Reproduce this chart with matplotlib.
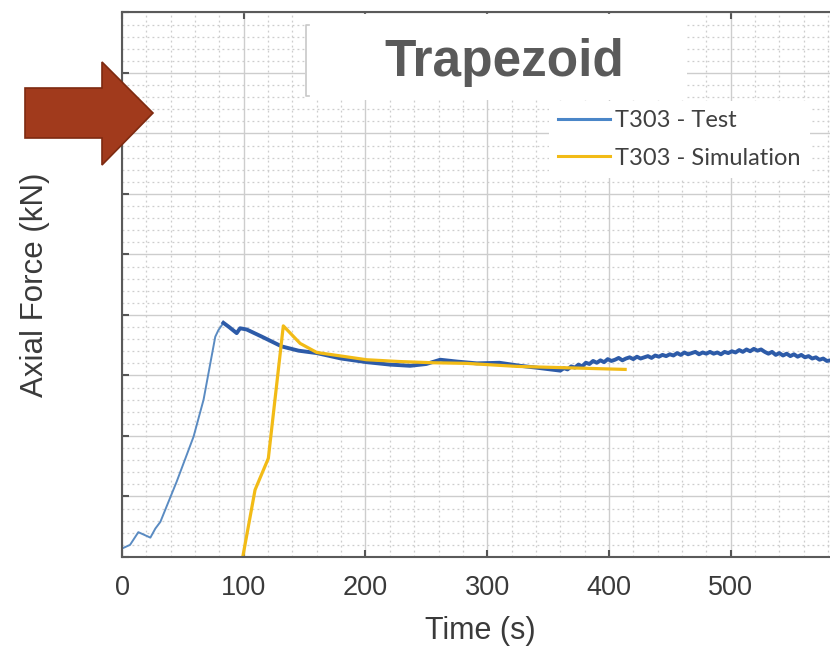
import numpy as np
import matplotlib
matplotlib.use("Agg")
import matplotlib.pyplot as plt
from matplotlib.patches import Polygon, Rectangle
from matplotlib.ticker import MultipleLocator

plt.rcParams["font.family"] = ["Liberation Sans", "DejaVu Sans"]

# T303 test, rise (thin line)
test_rise_t = [0, 6.6, 13.4, 23.3, 27.4, 31.5, 45, 58.8, 67, 76.6, 79.2, 83.3]
test_rise_v = [1.4, 2.0, 4.1, 3.2, 4.7, 5.8, 12.5, 19.9, 26.0, 36.4, 37.5, 38.7]

# T303 test, after peak (thick line)
test_t = [83.3, 88, 94.2, 97, 102.4, 115, 131.2, 145, 160, 180, 201, 220, 236.7, 250,
          261.4, 275, 291.5, 310, 327, 340, 352, 360, 363, 366, 369, 372, 375, 378, 381,
          384, 387, 390, 393, 396, 399, 402, 405, 408, 411, 414, 417, 420, 423, 426, 429,
          432, 435, 438, 441, 444, 447, 450, 453, 456, 459, 462, 465, 468, 471, 474, 477,
          480, 483, 486, 489, 492, 495, 498, 501, 504, 507, 510, 513, 516, 519, 522, 525,
          528, 531, 534, 537, 540, 543, 546, 549, 552, 555, 558, 561, 564, 567, 570, 573,
          576, 579, 582]
test_v = [38.7, 38.0, 37.0, 37.8, 37.6, 36.4, 34.8, 34.1, 33.7, 32.8, 32.2, 31.8, 31.6, 31.9,
          32.6, 32.3, 32.0, 32.1, 31.6, 31.3, 31.0, 30.8, 31.2, 31.0, 31.5, 31.3, 31.8, 31.5,
          32.1, 31.9, 32.4, 32.1, 32.5, 32.2, 32.7, 32.4, 32.6, 32.9, 32.5, 32.8, 33.0, 32.7,
          33.1, 32.8, 33.0, 33.2, 32.9, 33.3, 33.1, 33.4, 33.2, 33.5, 33.3, 33.7, 33.4, 33.8,
          33.5, 33.7, 33.9, 33.5, 33.8, 33.6, 33.9, 33.6, 33.8, 33.5, 33.9, 33.7, 34.0, 33.8,
          34.2, 33.9, 34.3, 34.0, 34.4, 34.1, 34.3, 33.9, 33.6, 33.9, 33.4, 33.7, 33.3, 33.6,
          33.2, 33.5, 33.1, 33.4, 33.0, 33.2, 32.8, 33.0, 32.6, 32.8, 32.4, 32.5]

# T303 simulation
sim_t = [99.2, 109.3, 120.2, 132.5, 146.3, 160, 173.6, 201, 228.4, 255.8, 283, 324.3, 360, 413.3]
sim_v = [0.0, 11.1, 16.3, 38.2, 35.3, 33.8, 33.4, 32.6, 32.3, 32.1, 32.0, 31.5, 31.3, 31.0]

x_ticks = [0, 100, 200, 300, 400, 500]

fig = plt.figure(figsize=(8.3, 6.49), dpi=100)
ax = fig.add_axes([0.147, 0.1418, 0.88, 0.839])

ax.set_xlim(0, 600)
ax.set_ylim(0, 90)
ax.set_xticks(x_ticks)
ax.set_xticklabels([str(t) for t in x_ticks])
ax.yaxis.set_major_locator(MultipleLocator(10))
ax.xaxis.set_minor_locator(MultipleLocator(20))
ax.yaxis.set_minor_locator(MultipleLocator(2))
ax.set_yticklabels([])

ax.grid(which="major", color="#cdcdcd", lw=1.0, ls="-")
ax.grid(which="minor", color="#cdcdcd", lw=0.9, ls=(0, (1.5, 2.5)))
ax.set_axisbelow(True)

ax.tick_params(which="major", direction="in", length=5, width=1.5, color="#555555",
               top=True, labelsize=19.5, labelcolor="#3a3a3a", pad=13)
ax.tick_params(which="minor", length=0)
for s in ax.spines.values():
    s.set_color("#5a5a5a")
    s.set_linewidth(1.5)

ax.plot(test_rise_t, test_rise_v, color="#5a8bc2", lw=1.4)
ax.plot(test_t, test_v, color="#2d5ba8", lw=2.8)
ax.plot(sim_t, sim_v, color="#f2bb16", lw=2.3)

ax.set_xlabel("Time (s)", fontsize=22, color="#3a3a3a")
ax.xaxis.set_label_coords(0.490, -0.108)
ax.set_ylabel("Axial Force (kN)", fontsize=22.5, color="#3a3a3a")
ax.yaxis.set_label_coords(-0.099, 0.5)

# title box
ax.add_patch(Rectangle((0.251, 0.839), 0.523, 0.158, transform=ax.transAxes,
                       facecolor="white", edgecolor="none", zorder=3))
ax.plot([0.256, 0.252, 0.252, 0.256], [0.977, 0.977, 0.847, 0.847], transform=ax.transAxes,
        color="#c8c8c8", lw=1.2, zorder=4)
ax.text(0.523, 0.909, "Trapezoid", transform=ax.transAxes, ha="center", va="center",
        fontsize=37, fontweight="bold", color="#5a5a5a", zorder=5)

# legend
h1, = ax.plot([], [], color="#4a86c8", lw=2.2)
h2, = ax.plot([], [], color="#f2bb16", lw=2.2)
leg = ax.legend([h1, h2], ["T303 - Test", "T303 - Simulation"], loc="upper left",
                bbox_to_anchor=(0.584, 0.838), borderaxespad=0, frameon=True, fancybox=False,
                edgecolor="none", framealpha=1.0, handlelength=2.2, handletextpad=0.2,
                labelspacing=0.7, prop={"family": "Lato", "size": 17})
for t in leg.get_texts():
    t.set_color("#404040")

# arrow
pts = [(25, 88), (102, 88), (102, 62), (153, 113), (102, 165), (102, 138), (25, 138)]
pts = [(x / 830, 1 - y / 649) for x, y in pts]
fig.add_artist(Polygon(pts, closed=True, transform=fig.transFigure,
                       facecolor="#a13a1c", edgecolor="#7e2a10", lw=1.2))

fig.savefig("out.png", dpi=100)
